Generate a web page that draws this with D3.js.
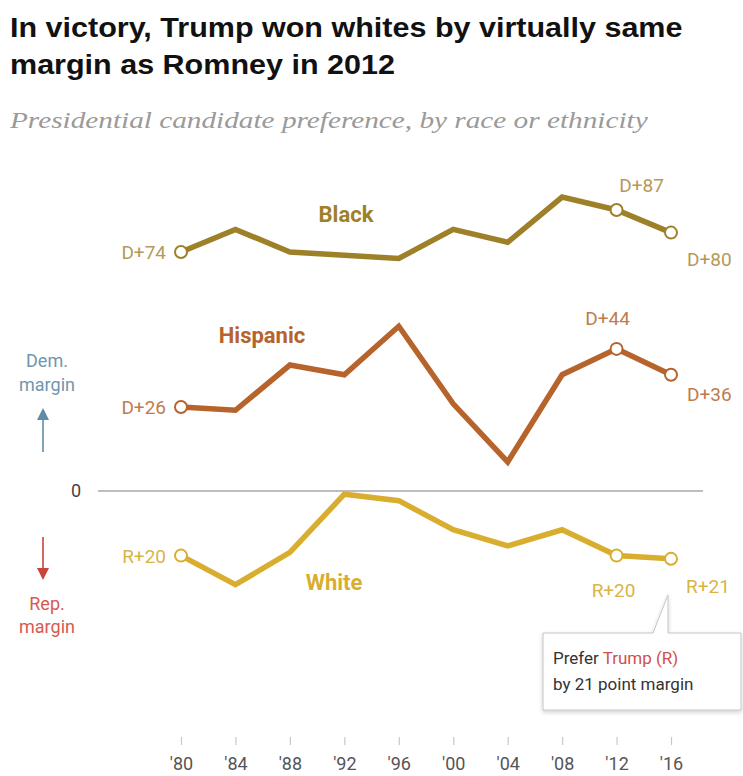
<!DOCTYPE html>
<html>
<head>
<meta charset="utf-8">
<script src="https://cdn.jsdelivr.net/npm/d3@7"></script>
<style>
  html, body { margin: 0; padding: 0; background: #fff; }
  svg { display: block; }
</style>
</head>
<body>
<svg id="chart" width="743" height="776"></svg>
<script>
// Election years and the Democratic-minus-Republican margin for each group
const years = [1980, 1984, 1988, 1992, 1996, 2000, 2004, 2008, 2012, 2016];
const tickLabels = ["'80", "'84", "'88", "'92", "'96", "'00", "'04", "'08", "'12", "'16"];
const blackMargin    = [74, 81, 74, 73, 72, 81, 77, 91, 87, 80];
const hispanicMargin = [26, 25, 39, 36, 51, 27, 9, 36, 44, 36];
const whiteMargin    = [-20, -29, -19, -1, -3, -12, -17, -12, -20, -21];
const groupNames = ["Black", "Hispanic", "White"];

function marginLabel(v) { return (v >= 0 ? "D+" : "R+") + Math.abs(v); }

const svg = d3.select("#chart");
const FONT = "Roboto, 'Liberation Sans', sans-serif";

const x = d3.scaleLinear().domain([1980, 2016]).range([181, 671]);
const y = d3.scaleLinear().domain([-30, 90]).range([587.9, 200.3]);

// Title and subtitle
const title = svg.append("g").attr("font-family", "'Liberation Sans Narrow', 'Liberation Sans', sans-serif")
  .attr("font-weight", "bold").attr("font-size", 27).attr("fill", "#111");
const t1 = title.append("text").attr("x", 0).attr("y", 37).text("In victory, Trump won whites by virtually same");
title.append("text").attr("x", 0).attr("y", 74).text("margin as Romney in 2012");
const kT = 673 / t1.node().getComputedTextLength();
title.attr("transform", `translate(10,0) scale(${kT},1)`);

const sub = svg.append("g").attr("font-family", "'Liberation Serif', serif")
  .attr("font-style", "italic").attr("font-size", 24).attr("fill", "#9a9a9a");
const s1 = sub.append("text").attr("x", 0).attr("y", 128)
  .text("Presidential candidate preference, by race or ethnicity");
const kS = 638 / s1.node().getComputedTextLength();
sub.attr("transform", `translate(10,0) scale(${kS},1)`);

// Zero baseline
svg.append("line").attr("x1", 98).attr("x2", 703).attr("y1", y(0)).attr("y2", y(0))
  .attr("stroke", "#bdbdbd").attr("stroke-width", 2);
svg.append("text").attr("x", 76).attr("y", y(0) + 6).attr("text-anchor", "middle")
  .attr("font-family", FONT).attr("font-size", 18).attr("fill", "#444").text("0");

// Dem / Rep direction hints
const dem = "#5f8ca7", demText = "#6f96ae", rep = "#c9443a", repText = "#d65a50";
svg.append("text").attr("x", 47).attr("y", 367).attr("text-anchor", "middle")
  .attr("font-family", FONT).attr("font-size", 18).attr("fill", demText).text("Dem.");
svg.append("text").attr("x", 47).attr("y", 391).attr("text-anchor", "middle")
  .attr("font-family", FONT).attr("font-size", 18).attr("fill", demText).text("margin");
svg.append("line").attr("x1", 43).attr("x2", 43).attr("y1", 452).attr("y2", 418)
  .attr("stroke", dem).attr("stroke-width", 1.6);
svg.append("path").attr("d", "M37,420 L49,420 L43,408 Z").attr("fill", dem);

svg.append("line").attr("x1", 43).attr("x2", 43).attr("y1", 537).attr("y2", 570)
  .attr("stroke", rep).attr("stroke-width", 1.6);
svg.append("path").attr("d", "M37,568 L49,568 L43,580 Z").attr("fill", rep);
svg.append("text").attr("x", 47).attr("y", 610).attr("text-anchor", "middle")
  .attr("font-family", FONT).attr("font-size", 18).attr("fill", repText).text("Rep.");
svg.append("text").attr("x", 47).attr("y", 633).attr("text-anchor", "middle")
  .attr("font-family", FONT).attr("font-size", 18).attr("fill", repText).text("margin");

// X axis
const xAxis = d3.axisBottom(x).tickValues(years)
  .tickFormat((d, i) => tickLabels[i]).tickSize(8).tickPadding(12);
const gx = svg.append("g").attr("transform", "translate(0,737)").call(xAxis);
gx.select(".domain").remove();
gx.selectAll(".tick line").attr("stroke", "#c8c8c8").attr("stroke-width", 1.2);
gx.selectAll(".tick text").attr("font-family", FONT).attr("font-size", 18).attr("fill", "#555");

// Series
const series = [
  { name: groupNames[0], values: blackMargin,    line: "#9e8029", text: "#b39a58" },
  { name: groupNames[1], values: hispanicMargin, line: "#b6632c", text: "#c07b4e" },
  { name: groupNames[2], values: whiteMargin,    line: "#d9ae2f", text: "#d8b447" }
];

const line = d3.line().x((d, i) => x(years[i])).y(d => y(d)).curve(d3.curveLinear);

series.forEach(s => {
  svg.append("path").datum(s.values).attr("d", line)
    .attr("fill", "none").attr("stroke", s.line).attr("stroke-width", 5.5)
    .attr("stroke-linejoin", "miter").attr("stroke-linecap", "butt");
  const idx = [0, years.length - 2, years.length - 1];
  svg.selectAll(null).data(idx).join("circle")
    .attr("cx", i => x(years[i])).attr("cy", i => y(s.values[i])).attr("r", 6)
    .attr("fill", "#fff").attr("stroke", s.line).attr("stroke-width", 2);
});

// Group names
const nameSpecs = [
  { s: 0, cx: 346, by: 222 },
  { s: 1, cx: 262, by: 343 },
  { s: 2, cx: 334, by: 590 }
];
nameSpecs.forEach(n => {
  svg.append("text").attr("x", n.cx).attr("y", n.by).attr("text-anchor", "middle")
    .attr("font-family", FONT).attr("font-weight", "bold").attr("font-size", 22)
    .attr("fill", series[n.s].line).text(series[n.s].name);
});

// Value labels at start, 2012 and 2016
const labelSpecs = [
  { s: 0, i: 0, dx: -15, dy: 7, anchor: "end" },
  { s: 0, i: 8, dx: 25, dy: -18, anchor: "middle" },
  { s: 0, i: 9, dx: 16, dy: 33, anchor: "start" },
  { s: 1, i: 0, dx: -15, dy: 7, anchor: "end" },
  { s: 1, i: 8, dx: -9, dy: -24, anchor: "middle" },
  { s: 1, i: 9, dx: 16, dy: 26, anchor: "start" },
  { s: 2, i: 0, dx: -15, dy: 7, anchor: "end" },
  { s: 2, i: 8, dx: -3, dy: 41, anchor: "middle" },
  { s: 2, i: 9, dx: 15, dy: 34, anchor: "start" }
];
labelSpecs.forEach(l => {
  const s = series[l.s];
  svg.append("text")
    .attr("x", x(years[l.i]) + l.dx).attr("y", y(s.values[l.i]) + l.dy)
    .attr("text-anchor", l.anchor).attr("font-family", FONT).attr("font-size", 19)
    .attr("fill", s.text).text(marginLabel(s.values[l.i]));
});

// Callout for Trump's 2016 margin among whites
const defs = svg.append("defs");
const f = defs.append("filter").attr("id", "shadow").attr("x", "-10%").attr("y", "-10%")
  .attr("width", "130%").attr("height", "140%");
f.append("feDropShadow").attr("dx", 0).attr("dy", 2).attr("stdDeviation", 2)
  .attr("flood-color", "#000").attr("flood-opacity", 0.18);

const tipX = x(2016) - 3, tipY = y(whiteMargin[9]) + 36;
const bx0 = 543, bx1 = 741, by0 = 633, by1 = 710;
svg.append("path")
  .attr("d", `M${bx0},${by0} L${tipX - 15},${by0} L${tipX},${tipY} L${tipX},${by0} L${bx1},${by0} L${bx1},${by1} L${bx0},${by1} Z`)
  .attr("fill", "#fff").attr("stroke", "#c4c4c4").attr("stroke-width", 1)
  .attr("filter", "url(#shadow)");

const c1 = svg.append("text").attr("x", 553).attr("y", 664)
  .attr("font-family", FONT).attr("font-size", 17).attr("fill", "#333");
c1.append("tspan").text("Prefer ");
c1.append("tspan").attr("fill", "#d0504a").text("Trump (R)");
svg.append("text").attr("x", 553).attr("y", 690)
  .attr("font-family", FONT).attr("font-size", 17).attr("fill", "#333")
  .text("by " + Math.abs(whiteMargin[9]) + " point margin");
</script>
</body>
</html>
